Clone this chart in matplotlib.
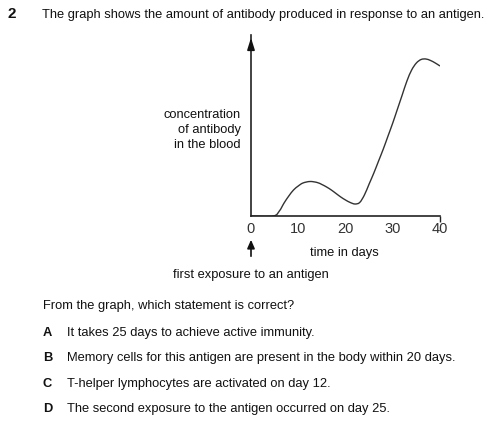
import matplotlib
matplotlib.use("Agg")
import matplotlib.pyplot as plt
from matplotlib.path import Path
from matplotlib.patches import PathPatch, FancyArrowPatch

W, H = 489, 425
plt.rcParams['font.family'] = ['Liberation Sans', 'DejaVu Sans']

# data (days, relative antibody concentration)
days = [0, 4.7, 6, 7, 8, 9, 10, 11, 12.5, 14, 15, 16, 17, 18, 19, 20, 21, 22,
        23, 24, 25, 26, 27, 28, 29, 30, 31, 32, 33, 34, 35, 36, 37, 38, 39, 40]
conc = [0, 0, 5, 13, 20, 26, 30, 33, 34.5, 33.5, 31.5, 29, 26, 22.5, 19, 16, 13.5, 12,
        13.5, 21, 32, 43, 55, 67, 80, 93, 107, 121, 135, 146, 153, 156.5, 157, 155.5, 153, 150]
xticks = [0, 10, 20, 30, 40]

question_no = "2"
stem = "The graph shows the amount of antibody produced in response to an antigen."
ylabel_lines = ["concentration", "of antibody", "in the blood"]
xlabel = "time in days"
exposure = "first exposure to an antigen"
prompt = "From the graph, which statement is correct?"
options = [("A", "It takes 25 days to achieve active immunity."),
           ("B", "Memory cells for this antigen are present in the body within 20 days."),
           ("C", "T-helper lymphocytes are activated on day 12."),
           ("D", "The second exposure to the antigen occurred on day 25.")]

fig = plt.figure(figsize=(W / 100, H / 100), dpi=100)


def fx(x):
    return x / W


def fy(y):
    return 1 - y / H


x0, x1 = 251, 440
yb, yt = 216, 35
ax = fig.add_axes([fx(x0), fy(yb), fx(x1) - fx(x0), fy(yt) - fy(yb)])
ax.set_xlim(0, 40)
ax.set_ylim(0, 181)
ax.patch.set_alpha(0)
for s in ['top', 'right']:
    ax.spines[s].set_visible(False)
for s in ['left', 'bottom']:
    ax.spines[s].set_linewidth(1.2)
    ax.spines[s].set_color('#222222')
ax.set_xticks([40])
ax.set_xticklabels([])
ax.tick_params(axis='x', length=4, width=1.0, color='#222222')
ax.set_yticks([])

# smooth curve through the read points (Catmull-Rom as cubic Bezier path)
pts = list(zip(days, conc))
verts = [pts[0]]
codes = [Path.MOVETO]
n = len(pts)
for i in range(n - 1):
    p0 = pts[i - 1] if i > 0 else pts[i]
    p1 = pts[i]
    p2 = pts[i + 1]
    p3 = pts[i + 2] if i + 2 < n else pts[i + 1]
    c1 = (p1[0] + (p2[0] - p0[0]) / 6, p1[1] + (p2[1] - p0[1]) / 6)
    c2 = (p2[0] - (p3[0] - p1[0]) / 6, p2[1] - (p3[1] - p1[1]) / 6)
    verts += [c1, c2, p2]
    codes += [Path.CURVE4] * 3
ax.add_patch(PathPatch(Path(verts, codes), facecolor='none', edgecolor='#333333', lw=1.0))

# y-axis arrow head
ax.annotate('', xy=(0, 181), xytext=(0, 168),
            arrowprops=dict(arrowstyle='-|>,head_width=0.22,head_length=0.7',
                            color='#111111', lw=1.2), annotation_clip=False)
# tick labels
for t in xticks:
    fig.text(fx(x0 + (x1 - x0) * t / 40), fy(229), str(t), ha='center', va='center',
             fontsize=10.5, color='#333333')

fs = 9.3
fig.text(fx(8), fy(14), question_no, ha='left', va='center', fontsize=11,
         fontweight='bold', color='#111111')
fig.text(fx(42), fy(15), stem, ha='left', va='center', fontsize=fs, color='#111111')

for i, line in enumerate(ylabel_lines):
    fig.text(fx(241), fy(115 + 15 * i), line, ha='right', va='center', fontsize=fs,
             color='#111111')
fig.text(fx(344), fy(253), xlabel, ha='center', va='center', fontsize=fs, color='#111111')

# arrow showing first exposure
fig.add_artist(FancyArrowPatch(
    (fx(251), fy(259)), (fx(251), fy(237)), transform=fig.transFigure,
    arrowstyle='-|>,head_width=2.2,head_length=5', color='#111111', lw=1.2))
fig.text(fx(173), fy(275), exposure, ha='left', va='center', fontsize=fs, color='#111111')

fig.text(fx(43), fy(306), prompt, ha='left', va='center', fontsize=fs, color='#111111')
for i, (letter, txt) in enumerate(options):
    y = 333 + 25.3 * i
    fig.text(fx(43), fy(y), letter, ha='left', va='center', fontsize=fs,
             fontweight='bold', color='#111111')
    fig.text(fx(67), fy(y), txt, ha='left', va='center', fontsize=fs, color='#111111')

fig.savefig('out.png', dpi=100)
